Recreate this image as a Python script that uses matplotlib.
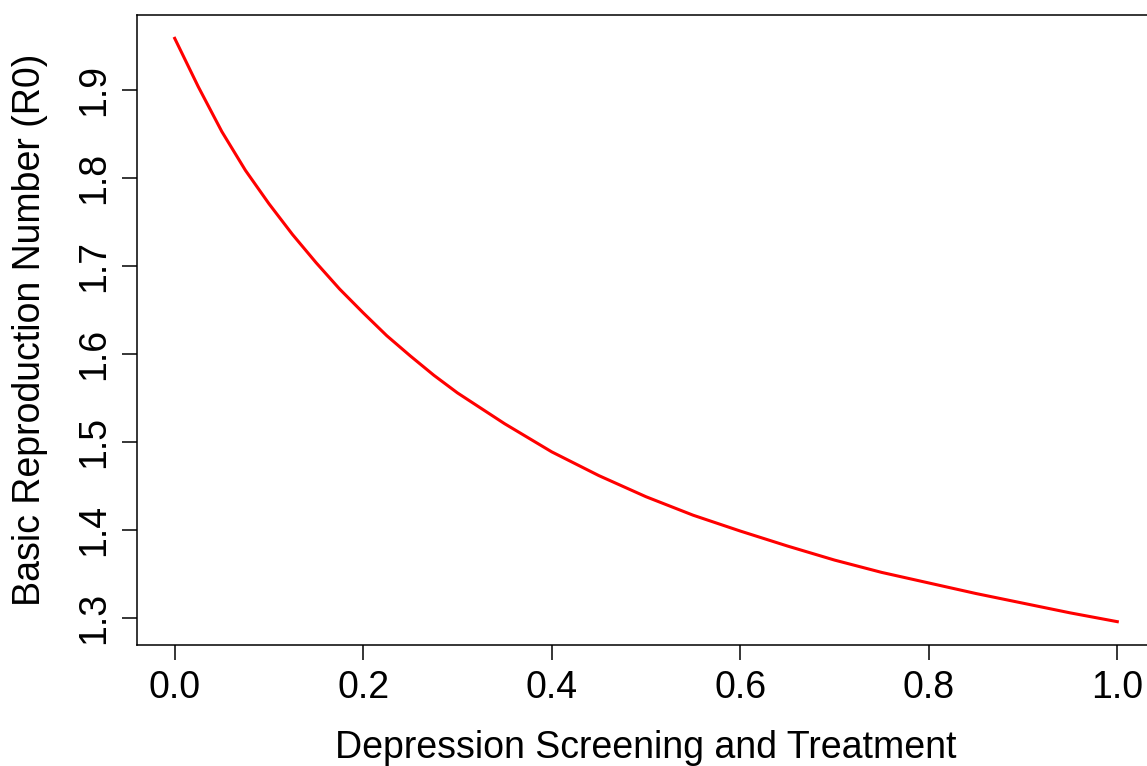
import matplotlib
matplotlib.use("Agg")
import matplotlib.pyplot as plt

# coverage of depression screening and treatment vs R0
coverage = [0.000, 0.025, 0.050, 0.075, 0.100, 0.125, 0.150, 0.175, 0.200, 0.225,
            0.250, 0.275, 0.300, 0.350, 0.400, 0.450, 0.500, 0.550, 0.600, 0.650,
            0.700, 0.750, 0.800, 0.850, 0.900, 0.950, 1.000]
r0 = [1.959, 1.904, 1.853, 1.809, 1.771, 1.736, 1.704, 1.674, 1.647, 1.621,
      1.598, 1.576, 1.556, 1.521, 1.489, 1.462, 1.438, 1.417, 1.399, 1.382,
      1.366, 1.352, 1.340, 1.328, 1.317, 1.306, 1.296]

xticks = [0.0, 0.2, 0.4, 0.6, 0.8, 1.0]
yticks = [1.3, 1.4, 1.5, 1.6, 1.7, 1.8, 1.9]

plt.rcParams['font.family'] = ['Liberation Sans', 'DejaVu Sans']

W, H = 1147, 766
fig = plt.figure(figsize=(W / 100, H / 100), dpi=100)
# R style box, right edge runs past the picture
ax = fig.add_axes([137 / W, 1 - 645 / H, (1155 - 137) / W, (645 - 15) / H])

ax.plot(coverage, r0, color='red', lw=2.2, solid_joinstyle='round')

ax.set_xlim(-0.04, 1.04)
span = max(r0) - min(r0)
ax.set_ylim(min(r0) - 0.04 * span, max(r0) + 0.04 * span)

ax.set_xticks(xticks)
ax.set_xticklabels(['%.1f' % v for v in xticks])
ax.set_yticks(yticks)
ax.set_yticklabels(['%.1f' % v for v in yticks], rotation=90, va='center')
ax.tick_params(direction='out', length=10.8, width=1.1, labelsize=27, pad=7, colors='black')

for s in ax.spines.values():
    s.set_linewidth(1.1)

ax.set_xlabel('Depression Screening and Treatment', fontsize=27)
ax.xaxis.label.set_va('center')
ax.xaxis.set_label_coords((646 - 137) / 1018, -(748 - 645) / 630)
ax.set_ylabel('Basic Reproduction Number (R0)', fontsize=27)
ax.yaxis.label.set_va('center')
ax.yaxis.set_label_coords(-(137 - 30) / 1018, 0.5)

fig.savefig('out.png', dpi=100)
